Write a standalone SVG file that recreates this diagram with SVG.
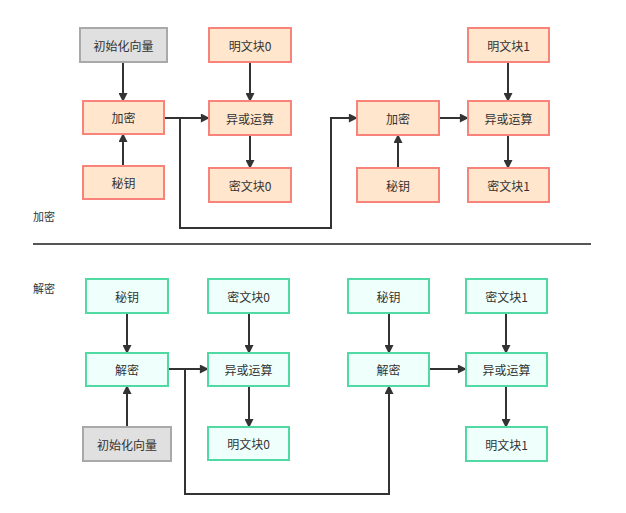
<svg xmlns="http://www.w3.org/2000/svg" width="626" height="513" viewBox="0 0 626 513">
<style>
text{font-family:"Noto Sans CJK SC","Liberation Sans",sans-serif;font-size:12px;fill:#333;text-anchor:middle;dominant-baseline:central}
.lbl{font-size:11px;text-anchor:start}
.enc rect{fill:#ffe6cc;stroke:#f8837a;stroke-width:2}
.dec rect{fill:#effffb;stroke:#4fd9a3;stroke-width:2}
.iv rect{fill:#e0e0e0;stroke:#a9a9a9;stroke-width:2}
.c{fill:none;stroke:#333;stroke-width:2;marker-end:url(#ah)}
</style>
<defs>
<marker id="ah" viewBox="0 0 10 10" refX="9" refY="5" markerWidth="10" markerHeight="9" markerUnits="userSpaceOnUse" orient="auto">
<path d="M0,0 L10,5 L0,10 Z" fill="#333"/>
</marker>
</defs>
<rect width="626" height="513" fill="#fff"/>
<text class="lbl" x="33" y="216">加密</text>
<text class="lbl" x="33" y="288">解密</text>
<line x1="33" y1="244" x2="591" y2="244" stroke="#555" stroke-width="2"/>

<g id="connectors">
<path class="c" d="M123,62 V101"/>
<path class="c" d="M123,166 V134"/>
<path class="c" d="M164,118 H209"/>
<path class="c" d="M180,118 V228 H331 V118 H357"/>
<path class="c" d="M250,62 V101"/>
<path class="c" d="M250,135 V168"/>
<path class="c" d="M439,118 H468"/>
<path class="c" d="M398,168 V135"/>
<path class="c" d="M508,62 V101"/>
<path class="c" d="M508,135 V168"/>

<path class="c" d="M127,313 V353"/>
<path class="c" d="M127,427 V386"/>
<path class="c" d="M168,369 H208"/>
<path class="c" d="M185,369 V494 H389 V386"/>
<path class="c" d="M249,313 V353"/>
<path class="c" d="M249,386 V427"/>
<path class="c" d="M389,313 V353"/>
<path class="c" d="M429,369 H466"/>
<path class="c" d="M506,313 V353"/>
<path class="c" d="M506,386 V427"/>
</g>

<g id="iv1" class="iv"><rect x="80" y="28" width="87" height="34"/><text x="123.5" y="45">初始化向量</text></g>
<g id="enc1" class="enc"><rect x="83" y="101" width="81" height="33"/><text x="123.5" y="117.5">加密</text></g>
<g id="key1" class="enc"><rect x="83" y="166" width="81" height="33"/><text x="123.5" y="182.5">秘钥</text></g>
<g id="p0" class="enc"><rect x="209" y="28" width="82" height="34"/><text x="250" y="45">明文块0</text></g>
<g id="xor1" class="enc"><rect x="209" y="101" width="82" height="34"/><text x="250" y="118">异或运算</text></g>
<g id="c0" class="enc"><rect x="209" y="168" width="82" height="34"/><text x="250" y="185">密文块0</text></g>
<g id="enc2" class="enc"><rect x="357" y="101" width="82" height="34"/><text x="398" y="118">加密</text></g>
<g id="key2" class="enc"><rect x="357" y="168" width="82" height="34"/><text x="398" y="185">秘钥</text></g>
<g id="p1" class="enc"><rect x="468" y="28" width="81" height="34"/><text x="508.5" y="45">明文块1</text></g>
<g id="xor2" class="enc"><rect x="468" y="101" width="81" height="34"/><text x="508.5" y="118">异或运算</text></g>
<g id="c1" class="enc"><rect x="468" y="168" width="81" height="34"/><text x="508.5" y="185">密文块1</text></g>

<g id="dkey1" class="dec"><rect x="86" y="279" width="82" height="34"/><text x="127" y="296">秘钥</text></g>
<g id="dc0" class="dec"><rect x="208" y="279" width="81" height="34"/><text x="248.5" y="296">密文块0</text></g>
<g id="dec1" class="dec"><rect x="86" y="353" width="82" height="33"/><text x="127" y="369.5">解密</text></g>
<g id="dxor1" class="dec"><rect x="208" y="353" width="81" height="33"/><text x="248.5" y="369.5">异或运算</text></g>
<g id="iv2" class="iv"><rect x="83" y="427" width="88" height="34"/><text x="127" y="444">初始化向量</text></g>
<g id="dp0" class="dec"><rect x="208" y="427" width="81" height="33"/><text x="248.5" y="443.5">明文块0</text></g>
<g id="dkey2" class="dec"><rect x="348" y="279" width="81" height="34"/><text x="388.5" y="296">秘钥</text></g>
<g id="dec2" class="dec"><rect x="348" y="353" width="81" height="33"/><text x="388.5" y="369.5">解密</text></g>
<g id="dc1" class="dec"><rect x="466" y="279" width="81" height="34"/><text x="506.5" y="296">密文块1</text></g>
<g id="dxor2" class="dec"><rect x="466" y="353" width="81" height="33"/><text x="506.5" y="369.5">异或运算</text></g>
<g id="dp1" class="dec"><rect x="466" y="427" width="81" height="34"/><text x="506.5" y="444">明文块1</text></g>
</svg>
